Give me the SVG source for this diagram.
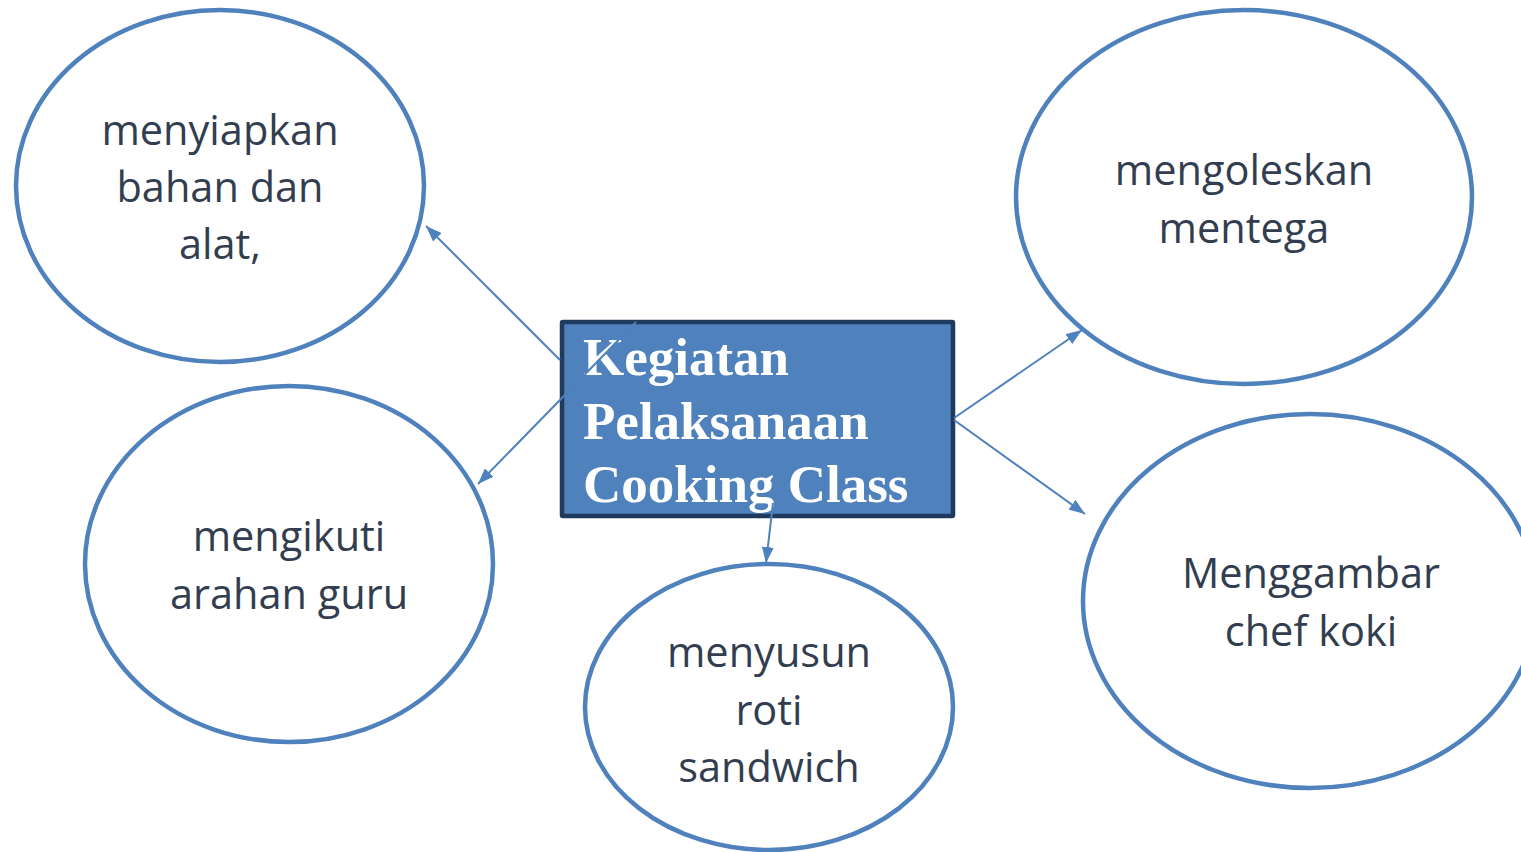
<svg xmlns="http://www.w3.org/2000/svg" width="1521" height="852" viewBox="0 0 1521 852">
<defs>
<style>
.node{fill:#fff;stroke:#4F81BD;stroke-width:4.5}
.lbl{font-family:"Open Sans","Noto Sans",sans-serif;font-size:41.5px;fill:#323E4F;text-anchor:middle}
.title{font-family:"Liberation Serif","Times New Roman",serif;font-size:53px;font-weight:bold;fill:#fff}
.conn{stroke:#4F81BD;stroke-width:2;fill:none}
</style>
<marker id="arr" viewBox="0 0 16 12" refX="16" refY="6" markerWidth="16" markerHeight="12" markerUnits="userSpaceOnUse" orient="auto">
<path d="M0,0 L16,6 L0,12 z" fill="#4F81BD"/>
</marker>
</defs>
<rect width="1521" height="852" fill="#fff"/>
<g id="node-1">
<ellipse class="node" cx="220" cy="186" rx="204" ry="176"/>
<text class="lbl"><tspan x="220" y="145">menyiapkan</tspan><tspan x="220" y="202">bahan dan</tspan><tspan x="220" y="259">alat,</tspan></text>
</g>
<g id="node-2">
<ellipse class="node" cx="289" cy="564" rx="204" ry="178"/>
<text class="lbl"><tspan x="289" y="551">mengikuti</tspan><tspan x="289" y="609">arahan guru</tspan></text>
</g>
<g id="node-3">
<ellipse class="node" cx="769" cy="707" rx="184" ry="143"/>
<text class="lbl"><tspan x="769" y="667">menyusun</tspan><tspan x="769" y="725">roti</tspan><tspan x="769" y="782">sandwich</tspan></text>
</g>
<g id="node-4">
<ellipse class="node" cx="1244" cy="197" rx="228" ry="187"/>
<text class="lbl"><tspan x="1244" y="185">mengoleskan</tspan><tspan x="1244" y="243">mentega</tspan></text>
</g>
<g id="node-5">
<ellipse class="node" cx="1310" cy="601" rx="227" ry="187"/>
<text class="lbl"><tspan x="1311" y="588">Menggambar</tspan><tspan x="1311" y="646">chef koki</tspan></text>
</g>
<g id="center">
<rect x="562" y="322" width="391" height="194" fill="#4F81BD" stroke="#1F3A5C" stroke-width="4.5" rx="1"/>
<text class="title"><tspan x="583" y="375">Kegiatan</tspan><tspan x="583" y="439">Pelaksanaan</tspan><tspan x="583" y="502">Cooking Class</tspan></text>
</g>
<g id="connectors">
<line class="conn" x1="560" y1="360" x2="426" y2="226" marker-end="url(#arr)"/>
<line class="conn" x1="636" y1="322" x2="478" y2="484" marker-end="url(#arr)"/>
<line class="conn" x1="773" y1="503" x2="766" y2="563" marker-end="url(#arr)"/>
<line class="conn" x1="954" y1="418" x2="1082" y2="330" marker-end="url(#arr)"/>
<line class="conn" x1="954" y1="420" x2="1085" y2="514" marker-end="url(#arr)"/>
</g>
</svg>
